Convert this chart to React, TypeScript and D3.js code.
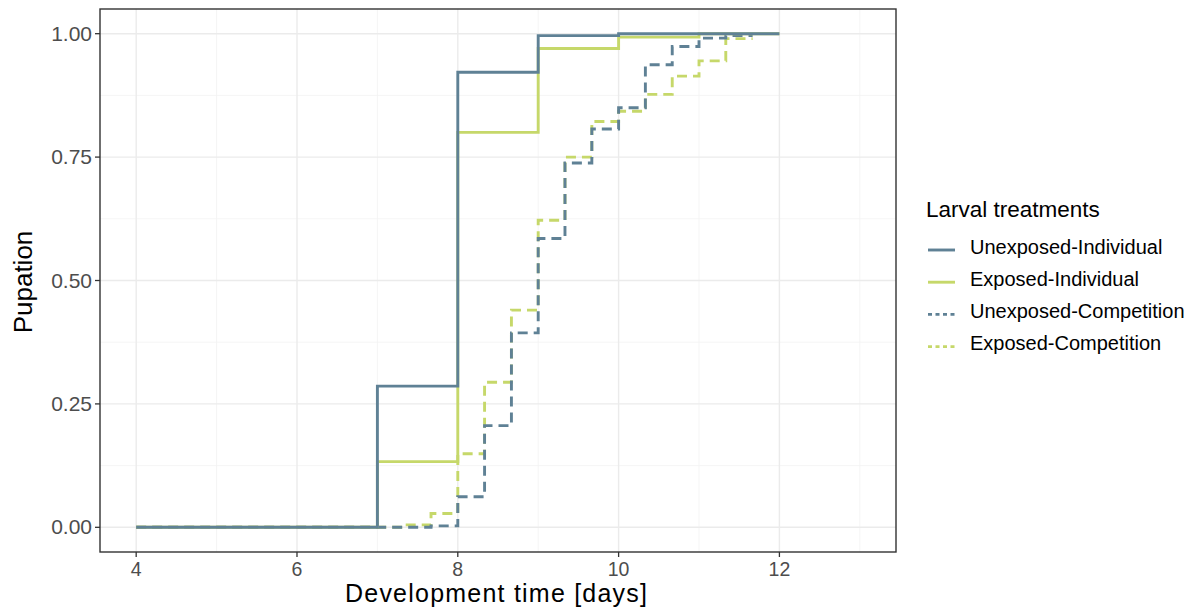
import React from "react";
import * as d3 from "d3";

const seriesNames = [
  "Unexposed-Individual",
  "Exposed-Individual",
  "Unexposed-Competition",
  "Exposed-Competition",
];
const seriesColors = ["#5f8195", "#c6d86a", "#5f8195", "#c6d86a"];
const seriesDashed = [false, false, true, true];

// step change times (days) and cumulative pupation values after each step
const uiTimes = [4, 7, 8, 9, 10, 12];
const uiValues = [0, 0.286, 0.922, 0.996, 1.0, 1.0];
const eiTimes = [4, 7, 8, 9, 10, 11, 12];
const eiValues = [0, 0.133, 0.8, 0.97, 0.993, 1.0, 1.0];
const ucTimes = [4, 7.667, 8, 8.333, 8.667, 9, 9.333, 9.667, 10, 10.333, 10.667, 11, 11.333, 11.667];
const ucValues = [0, 0.003, 0.062, 0.206, 0.394, 0.585, 0.738, 0.807, 0.85, 0.937, 0.974, 0.991, 0.996, 0.996];
const ecTimes = [4, 7.333, 7.667, 8, 8.333, 8.667, 9, 9.333, 9.667, 10, 10.333, 10.667, 11, 11.333, 11.667];
const ecValues = [0, 0.005, 0.028, 0.149, 0.294, 0.44, 0.622, 0.75, 0.822, 0.843, 0.877, 0.914, 0.945, 0.99, 0.99];

const xTicks = [4, 6, 8, 10, 12];
const xMinor = [5, 7, 9, 11, 13];
const yTicks = [0, 0.25, 0.5, 0.75, 1];
const yMinor = [0.125, 0.375, 0.625, 0.875];

const W = 1195;
const H = 609;
const panel = { left: 100, right: 896, top: 9, bottom: 552 };
const FONT = "'Liberation Sans', Arial, sans-serif";

export default function App() {
  const x = d3.scaleLinear().domain([3.55, 13.45]).range([panel.left, panel.right]);
  const y = d3.scaleLinear().domain([-0.05, 1.05]).range([panel.bottom, panel.top]);
  const line = d3
    .line<[number, number]>()
    .x((d) => x(d[0]))
    .y((d) => y(d[1]))
    .curve(d3.curveStepAfter);

  const series = [
    [uiTimes, uiValues],
    [eiTimes, eiValues],
    [ucTimes, ucValues],
    [ecTimes, ecValues],
  ].map(([t, v]) => t.map((tt, i) => [tt, v[i]] as [number, number]));

  const drawOrder = [3, 2, 1, 0];

  return (
    <svg width={W} height={H} style={{ position: "absolute", left: 0, top: 0 }}>
      <rect x={0} y={0} width={W} height={H} fill="#ffffff" />
      {/* grid */}
      {xMinor.map((t) => (
        <line key={"xm" + t} x1={x(t)} x2={x(t)} y1={panel.top} y2={panel.bottom} stroke="#f3f3f3" strokeWidth={0.8} />
      ))}
      {yMinor.map((t) => (
        <line key={"ym" + t} x1={panel.left} x2={panel.right} y1={y(t)} y2={y(t)} stroke="#f3f3f3" strokeWidth={0.8} />
      ))}
      {xTicks.map((t) => (
        <line key={"xg" + t} x1={x(t)} x2={x(t)} y1={panel.top} y2={panel.bottom} stroke="#ebebeb" strokeWidth={1.4} />
      ))}
      {yTicks.map((t) => (
        <line key={"yg" + t} x1={panel.left} x2={panel.right} y1={y(t)} y2={y(t)} stroke="#ebebeb" strokeWidth={1.4} />
      ))}
      {/* lines */}
      {drawOrder.map((i) => (
        <path
          key={"s" + i}
          d={line(series[i]) || ""}
          fill="none"
          stroke={seriesColors[i]}
          strokeWidth={2.9}
          strokeDasharray={seriesDashed[i] ? "10,6" : undefined}
        />
      ))}
      {/* panel border */}
      <rect
        x={panel.left}
        y={panel.top}
        width={panel.right - panel.left}
        height={panel.bottom - panel.top}
        fill="none"
        stroke="#333333"
        strokeWidth={1.4}
      />
      {/* axes ticks */}
      {xTicks.map((t) => (
        <g key={"xt" + t}>
          <line x1={x(t)} x2={x(t)} y1={panel.bottom} y2={panel.bottom + 5} stroke="#333333" strokeWidth={1.3} />
          <text x={x(t)} y={576} textAnchor="middle" fontFamily={FONT} fontSize={19.5} fill="#4d4d4d">
            {t}
          </text>
        </g>
      ))}
      {yTicks.map((t) => (
        <g key={"yt" + t}>
          <line x1={panel.left - 5} x2={panel.left} y1={y(t)} y2={y(t)} stroke="#333333" strokeWidth={1.3} />
          <text x={92} y={y(t) + 7} textAnchor="end" fontFamily={FONT} fontSize={21} fill="#4d4d4d">
            {d3.format(".2f")(t)}
          </text>
        </g>
      ))}
      {/* axis titles */}
      <text
        x={496}
        y={602}
        textAnchor="middle"
        fontFamily={FONT}
        fontSize={25}
        fill="#000"
        textLength={302}
        lengthAdjust="spacing"
      >
        Development time [days]
      </text>
      <text
        transform={`translate(32, 282) rotate(-90)`}
        textAnchor="middle"
        fontFamily={FONT}
        fontSize={26}
        fill="#000"
      >
        Pupation
      </text>
      {/* legend */}
      <text x={926} y={217} fontFamily={FONT} fontSize={22.5} fill="#000">
        Larval treatments
      </text>
      {seriesNames.map((n, i) => {
        const base = 253.5 + i * 32.2;
        const cy = base - 3.5;
        return (
          <g key={"lg" + i}>
            <line
              x1={928}
              x2={955}
              y1={cy}
              y2={cy}
              stroke={seriesColors[i]}
              strokeWidth={2.9}
              strokeDasharray={seriesDashed[i] ? "4,3.5" : undefined}
            />
            <text x={970} y={base} fontFamily={FONT} fontSize={20} fill="#000">
              {n}
            </text>
          </g>
        );
      })}
    </svg>
  );
}
